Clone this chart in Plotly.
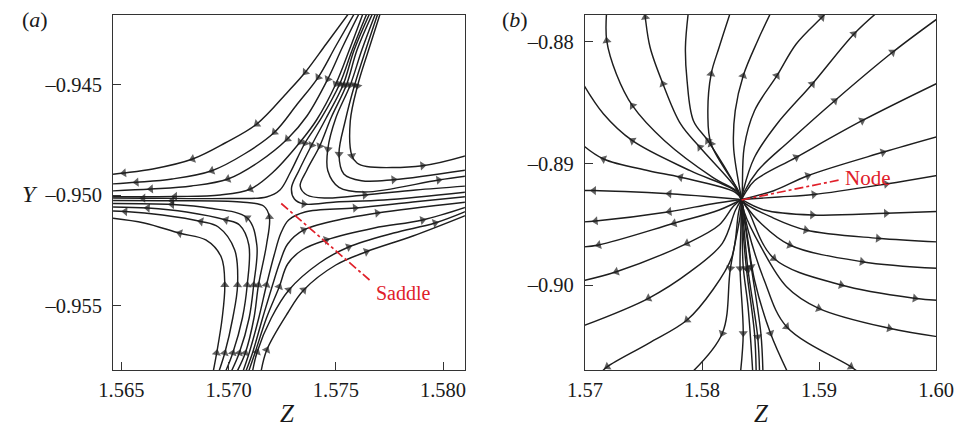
import plotly.graph_objects as go

# ---------------- Panel (a): saddle (streamlines, flow direction order) ----------------
SADDLE_Z = [
    [1.575719, 1.574551, 1.573576, 1.572755, 1.571317, 1.569835, 1.568322, 1.566467, 1.565120, 1.564491],
    [1.575961, 1.575000, 1.574178, 1.573204, 1.572139, 1.570734, 1.569220, 1.567365, 1.565704, 1.564491],
    [1.576168, 1.575314, 1.574627, 1.573653, 1.572741, 1.571407, 1.569970, 1.568264, 1.566377, 1.564491],
    [1.576329, 1.575629, 1.575000, 1.574102, 1.573338, 1.572081, 1.571017, 1.569611, 1.567500, 1.564491],
    [1.576514, 1.575763, 1.575180, 1.574326, 1.573563, 1.572889, 1.572395, 1.571767, 1.570060, 1.566018, 1.564491],
    [1.576653, 1.575853, 1.575337, 1.574551, 1.573877, 1.573294, 1.572934, 1.573069, 1.573505, 1.575000, 1.577245, 1.581108],
    [1.576788, 1.575988, 1.575494, 1.574775, 1.574250, 1.573653, 1.573338, 1.573653, 1.574551, 1.576347, 1.578728, 1.581108],
    [1.576913, 1.576213, 1.575674, 1.575000, 1.574627, 1.574627, 1.575148, 1.576347, 1.579792, 1.581108],
    [1.577017, 1.576392, 1.575876, 1.575449, 1.575148, 1.575373, 1.576199, 1.577695, 1.581108],
    [1.577124, 1.576527, 1.576011, 1.575674, 1.575750, 1.575988, 1.576437, 1.579042, 1.581108],
    [1.569261, 1.569445, 1.569701, 1.569822, 1.569656, 1.568937, 1.567725, 1.566063, 1.564491],
    [1.569508, 1.569822, 1.570195, 1.570419, 1.570285, 1.569521, 1.568713, 1.566916, 1.565178, 1.564491],
    [1.569809, 1.570195, 1.570644, 1.570868, 1.570945, 1.570509, 1.569880, 1.568039, 1.566229, 1.564491],
    [1.570069, 1.570496, 1.570958, 1.571169, 1.571317, 1.570868, 1.569072, 1.567365, 1.564491],
    [1.570334, 1.570779, 1.571183, 1.571394, 1.571767, 1.571901, 1.571632, 1.570554, 1.567365, 1.564491],
    [1.570626, 1.570958, 1.571407, 1.571767, 1.572126, 1.572440, 1.572800, 1.573563, 1.575898, 1.578593, 1.581108],
    [1.570756, 1.571115, 1.571587, 1.572036, 1.572395, 1.572755, 1.573505, 1.574686, 1.576931, 1.581108],
    [1.570895, 1.571228, 1.571767, 1.572364, 1.572755, 1.573428, 1.574551, 1.576796, 1.579042, 1.581108],
    [1.571093, 1.571331, 1.571991, 1.572813, 1.574237, 1.575597, 1.577695, 1.579626, 1.581108],
    [1.571493, 1.571780, 1.572755, 1.573505, 1.575000, 1.576424, 1.578593, 1.581108],
]
SADDLE_Y = [
    [-0.941642, -0.943178, -0.944456, -0.945346, -0.946792, -0.947651, -0.948374, -0.948825, -0.949006, -0.949074],
    [-0.941642, -0.943268, -0.944682, -0.945889, -0.947167, -0.948148, -0.948902, -0.949277, -0.949426, -0.949503],
    [-0.941642, -0.943313, -0.944759, -0.946431, -0.947470, -0.948509, -0.949277, -0.949593, -0.949729, -0.949819],
    [-0.941642, -0.943449, -0.944985, -0.946611, -0.947605, -0.948961, -0.949729, -0.950000, -0.950068, -0.950077],
    [-0.941642, -0.943449, -0.944985, -0.946521, -0.947651, -0.948961, -0.949774, -0.950090, -0.950158, -0.950145, -0.950136],
    [-0.941642, -0.943449, -0.945030, -0.946521, -0.947741, -0.948870, -0.949684, -0.950181, -0.950407, -0.950316, -0.950226, -0.949864],
    [-0.941642, -0.943449, -0.945030, -0.946521, -0.947786, -0.948870, -0.949593, -0.950000, -0.950136, -0.950000, -0.949774, -0.949593],
    [-0.941642, -0.943449, -0.945030, -0.946521, -0.947922, -0.948902, -0.949652, -0.949864, -0.949322, -0.949142],
    [-0.941642, -0.943449, -0.945030, -0.946611, -0.948148, -0.949051, -0.949354, -0.949309, -0.948870],
    [-0.941642, -0.943449, -0.945075, -0.946657, -0.948224, -0.948554, -0.948712, -0.948676, -0.948215],
    [-0.958087, -0.957138, -0.955557, -0.954066, -0.952801, -0.952033, -0.951730, -0.951265, -0.951039],
    [-0.958087, -0.957138, -0.955557, -0.954066, -0.952485, -0.951446, -0.951197, -0.950904, -0.950745, -0.950723],
    [-0.958087, -0.957138, -0.955557, -0.954066, -0.952259, -0.951355, -0.951130, -0.950768, -0.950587, -0.950542],
    [-0.958087, -0.957138, -0.955557, -0.954066, -0.952259, -0.951039, -0.950587, -0.950429, -0.950384],
    [-0.958087, -0.957138, -0.955557, -0.954066, -0.952259, -0.950994, -0.950497, -0.950316, -0.950258, -0.950248],
    [-0.958087, -0.957138, -0.955557, -0.954066, -0.952711, -0.951717, -0.951130, -0.950768, -0.950587, -0.950316, -0.950068],
    [-0.958087, -0.957138, -0.955557, -0.954111, -0.953027, -0.952214, -0.951581, -0.951220, -0.950813, -0.950316],
    [-0.958087, -0.957138, -0.955557, -0.954143, -0.953117, -0.952485, -0.952033, -0.951491, -0.951130, -0.950542],
    [-0.958087, -0.957093, -0.955557, -0.954292, -0.953072, -0.952349, -0.951717, -0.951265, -0.950723],
    [-0.958087, -0.957003, -0.955331, -0.954292, -0.953163, -0.952562, -0.951852, -0.950904],
]
SADDLE_ARROWS = [
    [2, 4, 6, 8], [2, 4, 6, 8], [2, 4, 6, 8], [2, 4, 6, 8], [2, 4, 9],
    [2, 4, 8], [2, 4, 9], [2, 4, 8], [2, 4, 7], [2, 4, 7],
    [1, 3, 6], [1, 3, 6, 8], [1, 3, 6, 8], [1, 3, 5, 7], [1, 3, 5, 8],
    [3, 8], [6, 8], [3, 6, 8], [1, 3, 5, 7], [1, 3, 5],
]
SADDLE_MARK_Z = [1.572454, 1.576572]
SADDLE_MARK_Y = [-0.950384, -0.953840]
SADDLE_LABEL_ZY = [1.576796, -0.954428]

# ---------------- Panel (b): node (all streamlines leave the node) ----------------
NODE_ZY = [1.583382, -0.892971]
NODE_Z = [
    [1.582839, 1.578995, 1.574057, 1.571588, 1.569695],
    [1.583110, 1.580913, 1.576798, 1.574057, 1.572683, 1.571860, 1.571860],
    [1.582839, 1.579818, 1.578172, 1.576666, 1.575563, 1.575152, 1.575086],
    [1.582946, 1.580501, 1.579267, 1.578724, 1.578584, 1.578855],
    [1.583110, 1.580781, 1.580501, 1.580781, 1.581464, 1.582493],
    [1.583250, 1.582699, 1.582839, 1.583522, 1.584756, 1.585991],
    [1.583440, 1.583604, 1.584485, 1.586402, 1.588048, 1.590246, 1.590847],
    [1.583522, 1.584485, 1.586402, 1.589423, 1.592986, 1.595208],
    [1.583604, 1.584756, 1.587497, 1.591340, 1.596278, 1.600311],
    [1.583686, 1.584485, 1.588048, 1.593669, 1.600311],
    [1.586131, 1.589036, 1.595455, 1.600311],
    [1.586567, 1.589554, 1.595727, 1.600311],
    [1.585308, 1.589423, 1.595727, 1.600311],
    [1.583686, 1.585851, 1.588871, 1.595044, 1.600311],
    [1.583686, 1.585028, 1.587497, 1.593669, 1.600311],
    [1.583933, 1.586131, 1.591892, 1.598196, 1.600311],
    [1.583604, 1.585028, 1.587225, 1.589966, 1.596007, 1.600311],
    [1.583933, 1.585308, 1.587225, 1.592715, 1.593562],
    [1.583793, 1.584485, 1.585851, 1.587390],
    [1.583662, 1.584205, 1.585028, 1.585209],
    [1.583563, 1.583933, 1.584756, 1.584921],
    [1.583481, 1.583793, 1.584485, 1.584633],
    [1.583423, 1.583522, 1.583933, 1.584345],
    [1.583316, 1.583250, 1.583522, 1.583275],
    [1.583250, 1.582427, 1.581736, 1.578995],
    [1.583110, 1.582559, 1.580913, 1.578724, 1.575432, 1.571918, 1.571259],
    [1.582864, 1.581736, 1.578995, 1.575432, 1.569695],
    [1.582699, 1.581464, 1.578724, 1.572683, 1.569695],
    [1.581464, 1.577621, 1.571177, 1.569695],
    [1.580806, 1.577209, 1.570905, 1.569695],
    [1.580394, 1.577209, 1.573399, 1.570765, 1.569695],
    [1.582839, 1.578172, 1.575432, 1.571588, 1.569695],
]
NODE_Y = [
    [-0.892248, -0.890604, -0.888138, -0.885943, -0.883230],
    [-0.892379, -0.891146, -0.888138, -0.885261, -0.882655, -0.879918, -0.877394],
    [-0.891968, -0.888680, -0.886765, -0.883477, -0.880460, -0.877994, -0.877394],
    [-0.892026, -0.888138, -0.886494, -0.883206, -0.880460, -0.877394],
    [-0.892248, -0.888409, -0.885943, -0.882655, -0.880460, -0.877394],
    [-0.892248, -0.888680, -0.885672, -0.882795, -0.879918, -0.877394],
    [-0.892248, -0.888680, -0.885672, -0.882795, -0.880189, -0.877994, -0.877394],
    [-0.892248, -0.889502, -0.886765, -0.883477, -0.879367, -0.877394],
    [-0.892355, -0.890604, -0.888138, -0.884850, -0.880871, -0.877970],
    [-0.892437, -0.891426, -0.889502, -0.886494, -0.883313],
    [-0.892248, -0.891015, -0.889091, -0.887751],
    [-0.892766, -0.892560, -0.891697, -0.890957],
    [-0.893834, -0.894245, -0.894106, -0.893958],
    [-0.893284, -0.894385, -0.895478, -0.896161, -0.896465],
    [-0.893423, -0.894928, -0.896711, -0.898084, -0.898643],
    [-0.893834, -0.897805, -0.899999, -0.901093, -0.901273],
    [-0.893999, -0.896851, -0.900139, -0.901915, -0.903559, -0.904274],
    [-0.895478, -0.899588, -0.903427, -0.906715, -0.907315],
    [-0.895478, -0.899588, -0.903970, -0.907315],
    [-0.894928, -0.898495, -0.903970, -0.907315],
    [-0.895067, -0.898767, -0.904249, -0.907315],
    [-0.895149, -0.898627, -0.903970, -0.907315],
    [-0.895314, -0.898495, -0.901783, -0.907315],
    [-0.895478, -0.898627, -0.903970, -0.907315],
    [-0.894385, -0.898627, -0.903970, -0.907315],
    [-0.894106, -0.897673, -0.900410, -0.902876, -0.904792, -0.906715, -0.907315],
    [-0.893834, -0.896572, -0.898906, -0.901093, -0.903411],
    [-0.893505, -0.895067, -0.896572, -0.898906, -0.899670],
    [-0.893834, -0.894928, -0.896711, -0.896876],
    [-0.893341, -0.893974, -0.894738, -0.894821],
    [-0.892725, -0.892503, -0.892314, -0.892231, -0.892231],
    [-0.892379, -0.891146, -0.890604, -0.889642, -0.888409],
]
# arrow indices refer to the line with the node point prepended (index 0 = node)
NODE_ARROWS = [
    [3], [4, 6], [2, 4, 6], [2], [2, 4], [4], [4, 6], [4, 5], [4, 5], [3, 4],
    [2, 3], [2, 3], [2, 3], [3, 4], [3, 4], [2, 3, 4], [4, 5], [3, 4], [3],
    [2], [2, 3], [2], [], [2, 3], [2, 3], [4, 6], [4], [3, 4], [2, 3], [2, 3], [2, 4], [2, 4],
]
NODE_MARK_Z = [1.583382, 1.591752]
NODE_MARK_Y = [-0.893012, -0.891368]
NODE_LABEL_ZY = [1.592056, -0.891179]

# ---------------- axes ----------------
A_XRANGE = [1.564612, 1.581018]
A_YRANGE = [-0.957907, -0.941854]
A_XTICKS = [1.565, 1.570, 1.575, 1.580]
A_XTEXT = ["1.565", "1.570", "1.575", "1.580"]
A_YTICKS = [-0.945, -0.950, -0.955]
A_YTEXT = ["\u20130.945", "\u20130.950", "\u20130.955"]
B_XRANGE = [1.57, 1.60]
B_YRANGE = [-0.906987, -0.877781]
B_XTICKS = [1.57, 1.58, 1.59, 1.60]
B_XTEXT = ["1.57", "1.58", "1.59", "1.60"]
B_YTICKS = [-0.88, -0.89, -0.90]
B_YTEXT = ["\u20130.88", "\u20130.89", "\u20130.90"]

LINE_COLOR = "#1e1e1e"
RED = "#e0202a"
FONT = "Liberation Serif"
TXT = "#1a1a1a"


def arrow_points(zs, ys, idxs):
    X, Y, S = [], [], []
    n = len(zs)
    for i in idxs:
        i0, i1 = max(i - 1, 0), min(i + 1, n - 1)
        dz, dy = zs[i1] - zs[i0], ys[i1] - ys[i0]
        X += [zs[i] - 0.03 * dz, zs[i]]
        Y += [ys[i] - 0.03 * dy, ys[i]]
        S += [0, 8]
    return X, Y, S


fig = go.Figure()


def add_panel(lines_z, lines_y, arrows, xa, ya):
    AX, AY, AS = [], [], []
    for zs, ys, idx in zip(lines_z, lines_y, arrows):
        fig.add_trace(go.Scatter(x=zs, y=ys, mode="lines", xaxis=xa, yaxis=ya,
                                 line=dict(color=LINE_COLOR, width=1.45, shape="spline", smoothing=1.0),
                                 hoverinfo="skip", showlegend=False))
        X, Y, S = arrow_points(zs, ys, idx)
        AX += X; AY += Y; AS += S
    fig.add_trace(go.Scatter(x=AX, y=AY, mode="markers", xaxis=xa, yaxis=ya,
                             marker=dict(symbol="triangle-up", size=AS, color=LINE_COLOR,
                                         angleref="previous", line=dict(width=0)),
                             hoverinfo="skip", showlegend=False, cliponaxis=True))


add_panel(SADDLE_Z, SADDLE_Y, SADDLE_ARROWS, "x", "y")
node_lines_z = [[NODE_ZY[0]] + z for z in NODE_Z]
node_lines_y = [[NODE_ZY[1]] + y for y in NODE_Y]
add_panel(node_lines_z, node_lines_y, NODE_ARROWS, "x2", "y2")

# red dash-dot markers
fig.add_trace(go.Scatter(x=SADDLE_MARK_Z, y=SADDLE_MARK_Y, mode="lines", xaxis="x", yaxis="y",
                         line=dict(color=RED, width=1.7, dash="dashdot"), showlegend=False, hoverinfo="skip"))
fig.add_trace(go.Scatter(x=NODE_MARK_Z, y=NODE_MARK_Y, mode="lines", xaxis="x2", yaxis="y2",
                         line=dict(color=RED, width=1.7, dash="dashdot"), showlegend=False, hoverinfo="skip"))

tickfont = dict(family=FONT, size=20.5, color=TXT)
common = dict(showgrid=False, zeroline=False, showline=True, mirror=True, linecolor="#333333",
              linewidth=1, ticks="inside", ticklen=8, tickwidth=1, tickcolor="#333333",
              tickfont=tickfont)

YDOM = [0.13953, 0.96581]


def ann(text, px, py, size):
    return dict(text=text, x=px / 975, y=1 - py / 430, xref="paper", yref="paper",
                xanchor="center", yanchor="middle", showarrow=False,
                font=dict(family=FONT, size=size, color=TXT))


fig.update_layout(
    width=975, height=430, margin=dict(l=0, r=0, t=0, b=0),
    paper_bgcolor="white", plot_bgcolor="white",
    xaxis=dict(domain=[0.10123, 0.47590], range=A_XRANGE, tickvals=A_XTICKS, ticktext=A_XTEXT,
               anchor="y", ticklabelstandoff=1, **common),
    yaxis=dict(domain=YDOM, range=A_YRANGE, tickvals=A_YTICKS, ticktext=A_YTEXT, anchor="x",
               ticklabelstandoff=6, **common),
    xaxis2=dict(domain=[0.60379, 0.97774], range=B_XRANGE, tickvals=B_XTICKS, ticktext=B_XTEXT,
                anchor="y2", ticklabelstandoff=1, **common),
    yaxis2=dict(domain=YDOM, range=B_YRANGE, tickvals=B_YTICKS, ticktext=B_YTEXT, anchor="x2",
                ticklabelstandoff=6, **common),
    annotations=[
        ann("(<i>a</i>)", 18, 19, 22),
        ann("(<i>b</i>)", 516, 19, 22),
        ann("<i>Y</i>", 12, 194, 24),
        ann("<i>Z</i>", 280, 413, 25),
        ann("<i>Z</i>", 771.5, 413, 25),
        dict(text="Saddle", x=SADDLE_LABEL_ZY[0], y=SADDLE_LABEL_ZY[1], xref="x", yref="y",
             xanchor="left", yanchor="middle", showarrow=False,
             font=dict(family=FONT, size=20, color=RED)),
        dict(text="Node", x=NODE_LABEL_ZY[0], y=NODE_LABEL_ZY[1], xref="x2", yref="y2",
             xanchor="left", yanchor="middle", showarrow=False,
             font=dict(family=FONT, size=21, color=RED)),
    ],
)

fig.write_html("out.html")
